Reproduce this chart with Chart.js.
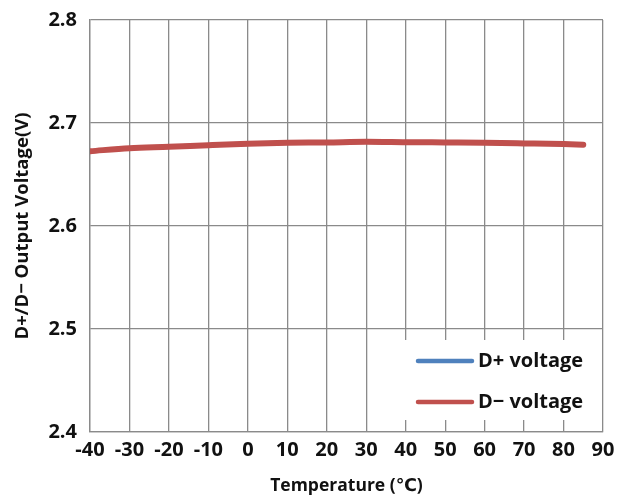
<!DOCTYPE html>
<html>
<head>
<meta charset="utf-8">
<title>D+/D− Output Voltage vs Temperature</title>
<script src="https://cdn.jsdelivr.net/npm/chart.js@4.4.1/dist/chart.umd.min.js"></script>
<style>
  html, body { margin: 0; padding: 0; background: #ffffff; }
  #wrap { width: 627px; height: 501px; }
</style>
</head>
<body>
<div id="wrap"><canvas id="chart" width="627" height="501"></canvas></div>
<script>
// Temperature sweep (°C) and measured output voltages (V)
const temperatures = [-40, -30, -20, -10, 0, 10, 20, 30, 40, 50, 60, 70, 80, 85];
const dPlusVoltage = [2.6726, 2.6756, 2.6769, 2.6785, 2.6799, 2.6808, 2.6811, 2.6818, 2.6814, 2.6811, 2.6808, 2.6802, 2.6795, 2.6789];
const dMinusVoltage = [2.6726, 2.6756, 2.6769, 2.6785, 2.6799, 2.6808, 2.6811, 2.6818, 2.6814, 2.6811, 2.6808, 2.6802, 2.6795, 2.6789];
const seriesNames = ['D+ voltage', 'D− voltage'];
const seriesColors = ['#4f81bd', '#c0504d'];

const xRange = { min: -40, max: 90, step: 10 };
const yRange = { min: 2.4, max: 2.8, step: 0.1 };

const FONT = '"Open Sans", "DejaVu Sans", sans-serif';
const GRID = '#8a8a8a';

function toPoints(xs, ys) {
  return xs.map((x, i) => ({ x: x, y: ys[i] }));
}

// Legend box drawn inside the plot, lower right, on a white panel
const insideLegend = {
  id: 'insideLegend',
  afterDatasetsDraw(chart) {
    const { ctx, chartArea } = chart;
    const boxLeft = chartArea.right - 202;
    const boxTop = chartArea.bottom - 92;
    const boxRight = chartArea.right - 1;
    const boxBottom = chartArea.bottom - 12;
    ctx.save();
    ctx.fillStyle = '#ffffff';
    ctx.fillRect(boxLeft, boxTop, boxRight - boxLeft, boxBottom - boxTop);
    chart.data.datasets.forEach((ds, i) => {
      const y = boxTop + 21 + i * 41;
      const x0 = boxLeft + 17;
      const x1 = x0 + 54;
      ctx.strokeStyle = ds.borderColor;
      ctx.lineWidth = 4.5;
      ctx.lineCap = 'round';
      ctx.beginPath();
      ctx.moveTo(x0, y);
      ctx.lineTo(x1, y);
      ctx.stroke();
      ctx.fillStyle = '#111111';
      ctx.font = 'bold 20px ' + FONT;
      ctx.textAlign = 'left';
      ctx.textBaseline = 'middle';
      ctx.fillText(ds.label, x1 + 6, y);
    });
    ctx.restore();
  }
};

new Chart(document.getElementById('chart'), {
  type: 'line',
  data: {
    datasets: [
      {
        label: seriesNames[0],
        data: toPoints(temperatures, dPlusVoltage),
        borderColor: seriesColors[0],
        backgroundColor: seriesColors[0],
        borderWidth: 4.5,
        pointRadius: 0,
        order: 1,
        cubicInterpolationMode: 'monotone',
        borderCapStyle: 'round'
      },
      {
        label: seriesNames[1],
        data: toPoints(temperatures, dMinusVoltage),
        borderColor: seriesColors[1],
        backgroundColor: seriesColors[1],
        borderWidth: 6,
        pointRadius: 0,
        order: 0,
        cubicInterpolationMode: 'monotone',
        borderCapStyle: 'round'
      }
    ]
  },
  options: {
    responsive: false,
    animation: false,
    devicePixelRatio: 1,
    layout: { padding: { top: 20, right: 24, left: 0, bottom: 0 } },
    plugins: {
      legend: { display: false },
      tooltip: { enabled: false }
    },
    scales: {
      x: {
        type: 'linear',
        min: xRange.min,
        max: xRange.max,
        afterFit(scale) { scale.height = 69; },
        ticks: {
          stepSize: xRange.step,
          color: '#111111',
          padding: 6,
          maxRotation: 0,
          autoSkip: false,
          font: { family: FONT, size: 20, weight: 'bold' }
        },
        grid: { color: GRID, lineWidth: 1.3, drawTicks: false },
        border: { color: GRID, width: 1.3 },
        title: {
          display: true,
          text: 'Temperature (℃)',
          color: '#111111',
          padding: { top: 0, bottom: 4 },
          font: { family: FONT, size: 17.5, weight: 'bold' }
        }
      },
      y: {
        type: 'linear',
        min: yRange.min,
        max: yRange.max,
        afterFit(scale) {
          scale.width = 90;
          scale.paddingTop = 0;
          scale.paddingBottom = 0;
        },
        ticks: {
          stepSize: yRange.step,
          color: '#111111',
          padding: 13,
          font: { family: FONT, size: 20, weight: 'bold' },
          callback: (v) => Number(v).toFixed(1)
        },
        grid: { color: GRID, lineWidth: 1.3, drawTicks: false },
        border: { color: GRID, width: 1.3 },
        title: {
          display: true,
          text: 'D+/D− Output Voltage(V)',
          color: '#111111',
          padding: { top: 12, bottom: 0 },
          font: { family: FONT, size: 18.5, weight: 'bold' }
        }
      }
    }
  },
  plugins: [insideLegend]
});
</script>
</body>
</html>
